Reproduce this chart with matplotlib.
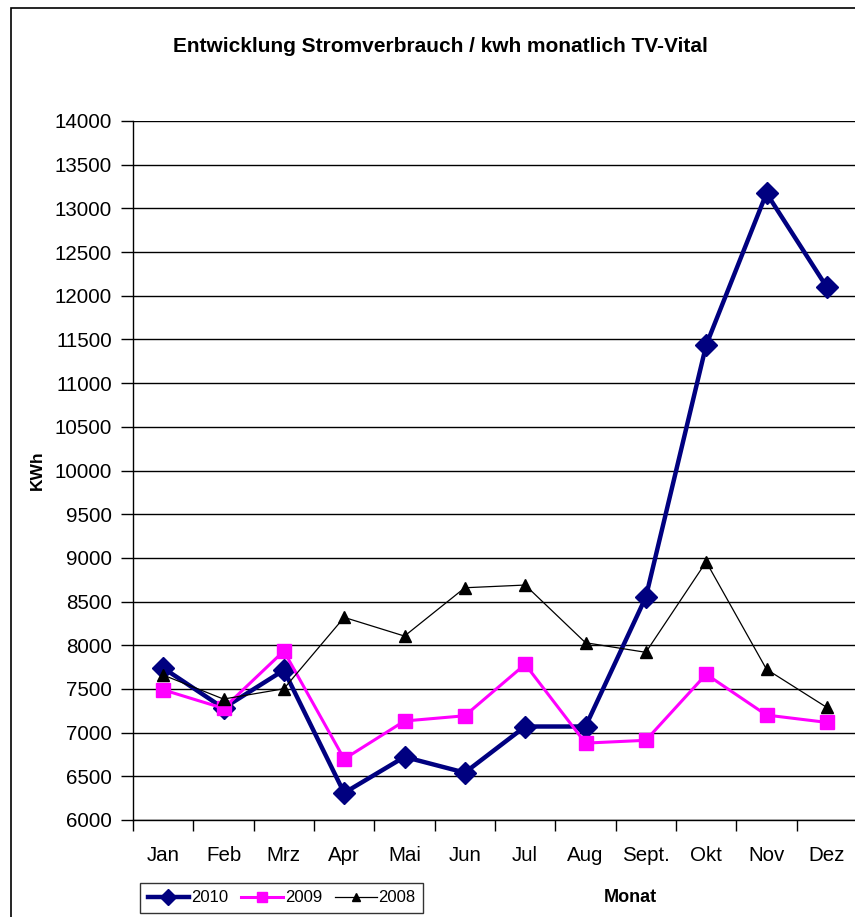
import matplotlib
matplotlib.use("Agg")
import matplotlib.pyplot as plt
from matplotlib.patches import Rectangle
import numpy as np

months = ["Jan", "Feb", "Mrz", "Apr", "Mai", "Jun", "Jul", "Aug", "Sept.", "Okt", "Nov", "Dez"]
v2010 = [7740, 7280, 7715, 6310, 6722, 6542, 7070, 7070, 8551, 11435, 13174, 12098]
v2009 = [7490, 7278, 7934, 6698, 7133, 7193, 7782, 6880, 6912, 7668, 7201, 7117]
v2008 = [7659, 7384, 7502, 8319, 8105, 8658, 8689, 8029, 7919, 8955, 7725, 7288]
yticks = list(range(6000, 14001, 500))

plt.rcParams['font.family'] = ['Liberation Sans', 'DejaVu Sans']

W, H = 855, 917
fig = plt.figure(figsize=(W / 100, H / 100), dpi=100)
fig.patch.set_facecolor('white')

ax = fig.add_axes([133 / W, 1 - 820 / H, (857 - 133) / W, (820 - 121) / H])
x = np.arange(len(months))

ax.plot(x, v2010, color='#000080', lw=3.2, marker='D', ms=11, label='2010', zorder=3, clip_on=False)
ax.plot(x, v2009, color='#FF00FF', lw=2.2, marker='s', ms=9.5, label='2009', zorder=4, clip_on=False)
ax.plot(x, v2008, color='black', lw=0.9, marker='^', ms=8, label='2008', zorder=5, clip_on=False)

ax.set_xlim(-0.5, len(months) - 0.5)
ax.set_ylim(6000, 14000)
ax.set_yticks(yticks)
ax.set_yticklabels([str(t) for t in yticks], fontsize=14.8)
ax.tick_params(axis='y', direction='out', length=9, width=1, pad=6, colors='black')
ax.set_xticks(x)
ax.set_xticklabels(months, fontsize=14.8)
ax.tick_params(axis='x', which='major', length=0, pad=19)
ax.set_xticks(np.arange(-0.5, len(months), 1), minor=True)
ax.tick_params(axis='x', which='minor', direction='out', length=8, width=1)
ax.grid(axis='y', color='black', lw=1)
ax.set_axisbelow(True)
for s in ['top', 'right']:
    ax.spines[s].set_visible(False)
for s in ['left', 'bottom']:
    ax.spines[s].set_color('black')
    ax.spines[s].set_linewidth(1)

fig.text(440 / W, 1 - 47 / H, "Entwicklung Stromverbrauch / kwh monatlich TV-Vital",
         ha='center', va='center', fontsize=15, fontweight='bold')
fig.text(37 / W, 1 - 470 / H, "KWh", ha='center', va='center', rotation=90,
         fontsize=12.5, fontweight='bold')
fig.text(630 / W, 1 - 897 / H, "Monat", ha='center', va='center',
         fontsize=13, fontweight='bold')

leg = fig.legend(loc='upper left', bbox_to_anchor=(140 / W, 1 - 883 / H), ncol=3,
                 fontsize=12, frameon=True, fancybox=False, edgecolor='black',
                 handlelength=2.5, numpoints=1, borderpad=0.45, columnspacing=0.8,
                 handletextpad=0.1, borderaxespad=0, markerscale=0.75)
leg.get_frame().set_linewidth(1)

fig.patches.append(Rectangle((11 / W, -0.1), 1.2, 1.1 - 8 / H, transform=fig.transFigure,
                             fill=False, edgecolor='black', lw=1.2, zorder=0))

fig.savefig("out.png", dpi=100)
